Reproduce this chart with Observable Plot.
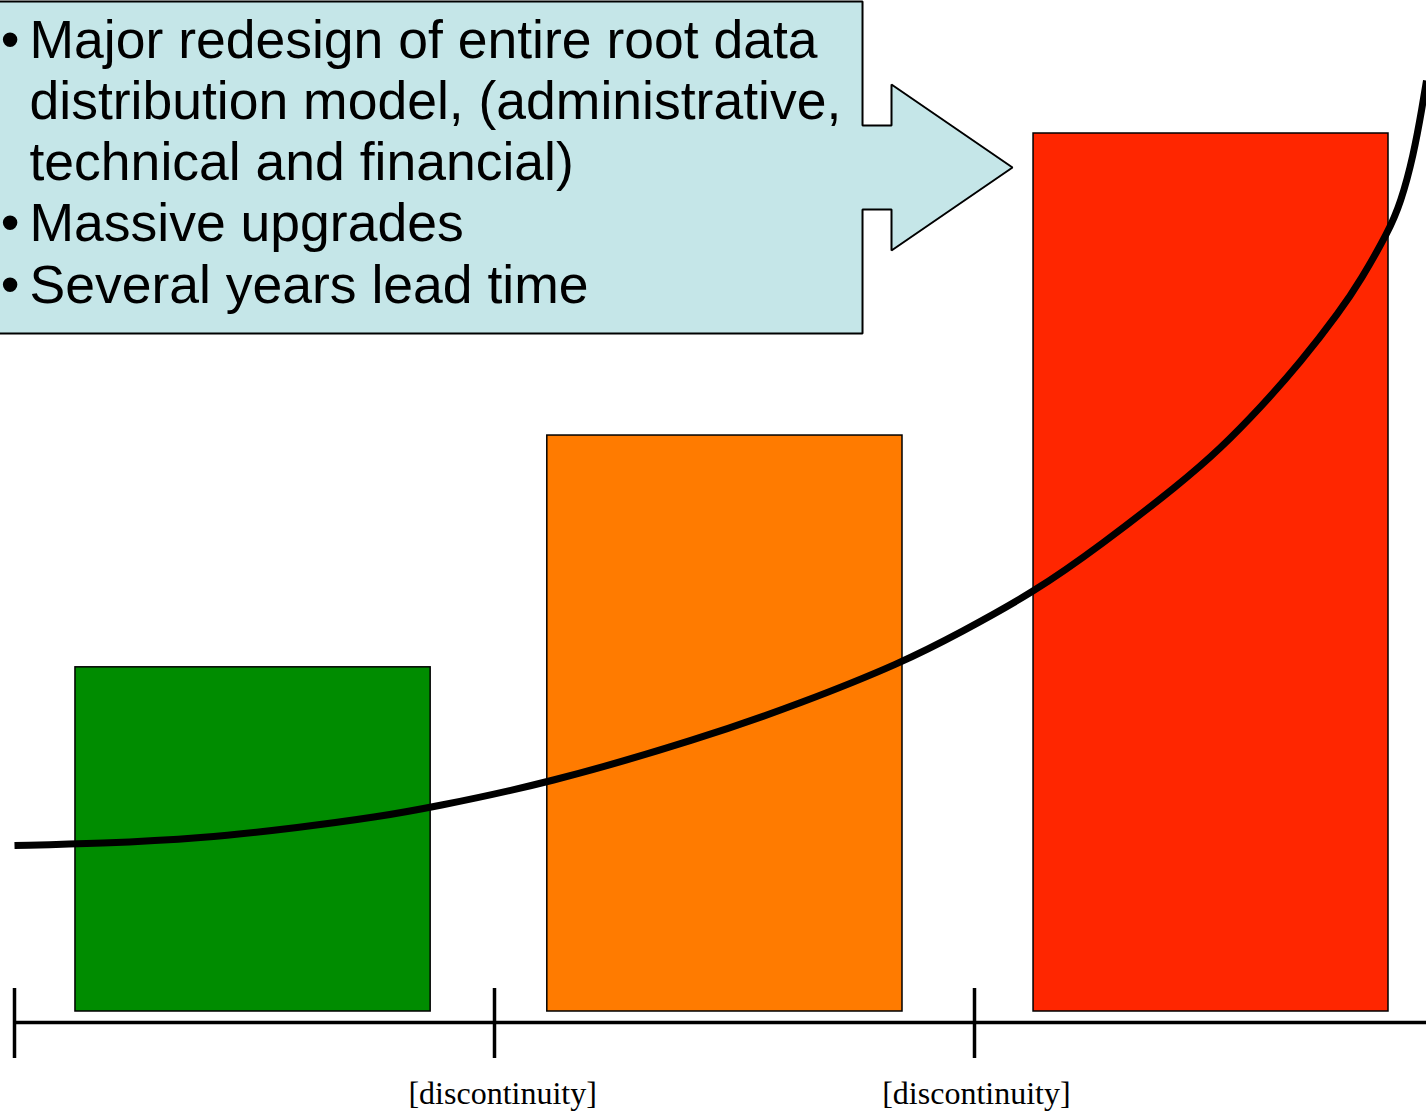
<!DOCTYPE html>
<html>
<head>
<meta charset="utf-8">
<script src="https://cdn.jsdelivr.net/npm/d3@7"></script>
<script src="https://cdn.jsdelivr.net/npm/@observablehq/plot@0.6"></script>
<style>
  html, body { margin: 0; padding: 0; background: #fff; overflow: hidden; }
  #chart svg { display: block; }
</style>
</head>
<body>
<div id="chart"></div>
<script>
// ---- Data (x in "period" units: tick every 1; y in value units, red bar = 100) ----
const barNames  = ["green", "orange", "red"];
const barStart  = [0.127, 1.110, 2.123];
const barEnd    = [0.867, 1.850, 2.8625];
const barValue  = [39.2, 65.6, 100];
const barColors = ["#008c00", "#ff7b00", "#ff2600"];

const curveX = [0, 0.1792, 0.3875, 0.5958, 0.7625, 0.8667, 1.1104, 1.4292, 1.6375, 1.85, 1.9708, 2.1229, 2.2625, 2.4292, 2.5125, 2.5958, 2.6792, 2.7625, 2.8042, 2.8625, 2.8875, 2.9146, 2.9333, 2.9417];
const curveY = [18.91, 19.13, 19.70, 20.96, 22.21, 23.23, 25.97, 31.09, 35.08, 39.75, 43.17, 47.72, 53.08, 60.14, 64.12, 68.79, 73.92, 79.84, 83.26, 88.84, 92.03, 97.49, 103.19, 106.04];

const tickX = [0, 1, 2];
const labelX = [1.017, 2.004];
const labelTexts = ["[discontinuity]", "[discontinuity]"];
const axisY = -1.25;
const axisStart = 0;
const axisEnd = 2.9417;
const tickTop = 2.62;
const tickBottom = -5.35;

const calloutX = [-0.0333, 1.7667, 1.7667, 1.8271, 1.8271, 2.0792, 1.8271, 1.8271, 1.7667, 1.7667, -0.0333, -0.0333];
const calloutY = [115.03, 115.03, 100.91, 100.91, 105.58, 96.13, 86.67, 91.34, 91.34, 77.22, 77.22, 115.03];

const calloutLines = [
  "Major redesign of entire root data",
  "distribution model, (administrative,",
  "technical and financial)",
  "Massive upgrades",
  "Several years lead time"
];
const bulletFlags = [true, false, false, true, true];

// ---- Build tables ----
const bars = barNames.map((n, i) => ({name: n, x1: barStart[i], x2: barEnd[i], y: barValue[i], color: barColors[i]}));
const curve = curveX.map((x, i) => ({x, y: curveY[i]}));
const callout = calloutX.map((x, i) => ({x, y: calloutY[i]}));
const ticks = tickX.map(x => ({x}));
const labels = labelX.map((x, i) => ({x, label: labelTexts[i]}));

const W = 1426, H = 1112;
const sans = "'Liberation Sans', Arial, Helvetica, sans-serif";
const plot = Plot.plot({
  width: W,
  height: H,
  margin: 0,
  x: {type: "linear", domain: [-14/480, (W - 14)/480], axis: null},
  y: {type: "linear", domain: [(1011 - H)/8.78, 1011/8.78], axis: null},
  style: {background: "#fff", overflow: "visible"},
  marks: [
    // callout arrow box
    Plot.line(callout, {x: "x", y: "y", fill: "#c5e6e8", stroke: "#000", strokeWidth: 2, curve: "linear", strokeLinejoin: "miter"}),
    Plot.text([calloutLines.join("\n")], {
      x: 0.03125, y: 113.61, text: d => d, textAnchor: "start", lineAnchor: "top",
      fontSize: 53.5, lineHeight: 1.146, fill: "#000", fontFamily: sans
    }),
    Plot.text([bulletFlags.map(b => b ? "•" : "").join("\n")], {
      x: -0.0285, y: 113.61, text: d => d, textAnchor: "start", lineAnchor: "top",
      fontSize: 53.5, lineHeight: 1.146, fill: "#000", fontFamily: sans
    }),
    // bars
    Plot.rectY(bars, {x1: "x1", x2: "x2", y1: 0, y2: "y", fill: "color", stroke: "#000", strokeWidth: 1.5}),
    // trend curve
    Plot.line(curve, {x: "x", y: "y", stroke: "#000", strokeWidth: 7, curve: "basis", strokeLinecap: "butt"}),
    // axis line and ticks
    Plot.ruleY([axisY], {x1: axisStart, x2: axisEnd, stroke: "#000", strokeWidth: 3.5}),
    Plot.ruleX(ticks, {x: "x", y1: tickTop, y2: tickBottom, stroke: "#000", strokeWidth: 3.5}),
    Plot.text(labels, {x: "x", y: -9.38, text: "label", textAnchor: "middle", lineAnchor: "middle",
      fontSize: 32, fill: "#000", fontFamily: "'Liberation Serif', 'Times New Roman', serif"})
  ]
});
document.getElementById("chart").appendChild(plot);
</script>
</body>
</html>
